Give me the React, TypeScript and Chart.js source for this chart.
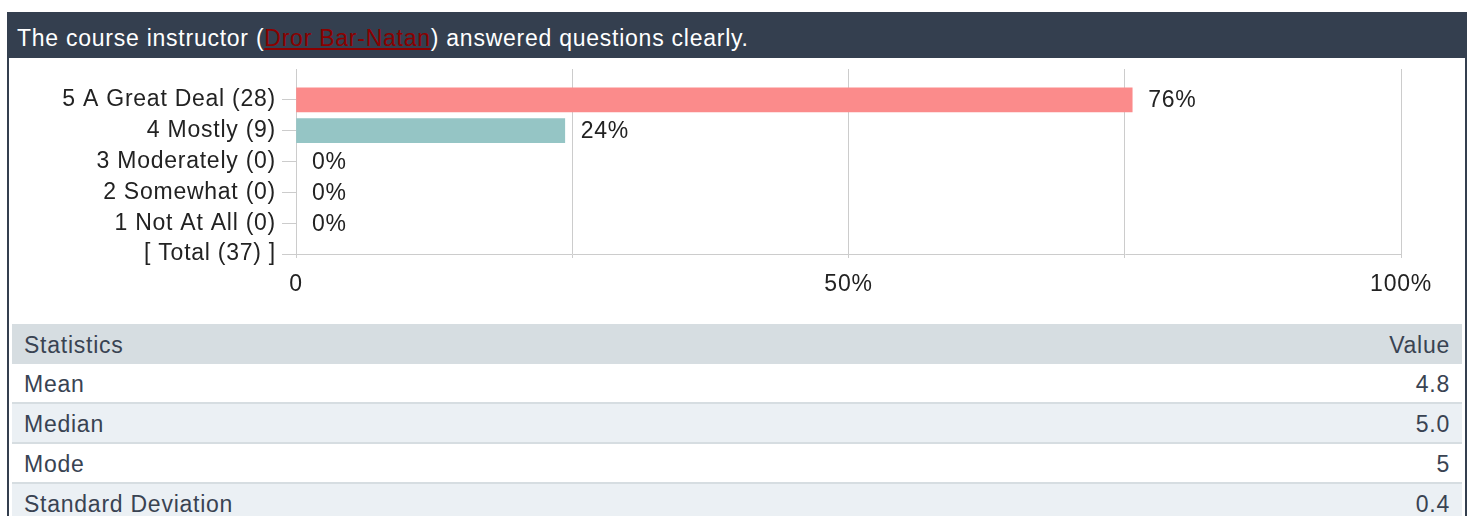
import React, { useEffect, useRef } from 'react';
import { Chart, registerables } from 'chart.js';

Chart.register(...registerables);

const categories = [
  '5 A Great Deal (28)',
  '4 Mostly (9)',
  '3 Moderately (0)',
  '2 Somewhat (0)',
  '1 Not At All (0)',
  '[ Total (37) ]',
];
const counts: (number | null)[] = [28, 9, 0, 0, 0, null];
const total = 37;
const percentLabels = ['76%', '24%', '0%', '0%', '0%', ''];
const barColors = ['#fb8b8b', '#95c5c5', '#cccccc', '#cccccc', '#cccccc', '#cccccc'];
const xTickValues = [0, 25, 50, 75, 100];
const xTickLabels: Record<number, string> = { 0: '0', 50: '50%', 100: '100%' };
const statNames = ['Mean', 'Median', 'Mode', 'Standard Deviation'];
const statValues = ['4.8', '5.0', '5', '0.4'];

const FONT = '"Liberation Sans", Arial, sans-serif';
const FONT_SIZE = 23;
const SPACING = '0.75px';

const spacingPlugin = {
  id: 'spacing',
  beforeLayout(chart: any) {
    chart.ctx.letterSpacing = SPACING;
  },
  beforeDraw(chart: any) {
    chart.ctx.letterSpacing = SPACING;
  },
};

const valueLabels = {
  id: 'valueLabels',
  afterDatasetsDraw(chart: any) {
    const ctx = chart.ctx;
    const meta = chart.getDatasetMeta(0);
    const data = chart.data.datasets[0].data;
    ctx.save();
    ctx.letterSpacing = SPACING;
    ctx.font = `${FONT_SIZE}px ${FONT}`;
    ctx.fillStyle = '#222222';
    ctx.textAlign = 'left';
    ctx.textBaseline = 'middle';
    meta.data.forEach((el: any, i: number) => {
      const v = data[i];
      if (v === null || v === undefined) return;
      const label = percentLabels[i - 1];
      if (!label) return;
      ctx.fillText(label, el.x + 16, el.y + 1);
    });
    ctx.restore();
  },
};

function SurveyChart() {
  const ref = useRef<HTMLCanvasElement>(null);
  useEffect(() => {
    if (!ref.current) return;
    const percents = counts.map((c) => (c === null ? null : (c / total) * 100));
    const chart = new Chart(ref.current, {
      type: 'bar',
      data: {
        labels: ['', ...categories],
        datasets: [
          {
            data: [null, ...percents],
            backgroundColor: ['transparent', ...barColors],
            barThickness: 24,
          },
        ],
      },
      options: {
        indexAxis: 'y',
        animation: false,
        responsive: false,
        events: [],
        layout: { padding: { top: 11, right: 64, left: 0, bottom: 0 } },
        plugins: { legend: { display: false }, tooltip: { enabled: false } },
        scales: {
          x: {
            type: 'linear',
            min: 0,
            max: 100,
            afterBuildTicks: (scale: any) => {
              scale.ticks = xTickValues.map((v) => ({ value: v }));
            },
            ticks: {
              autoSkip: false,
              maxRotation: 0,
              padding: 13,
              color: '#222222',
              font: { family: FONT, size: FONT_SIZE },
              callback: (v: any) => xTickLabels[Number(v)] ?? '',
            },
            grid: { color: '#cccccc', tickLength: 4, tickColor: '#cccccc' },
            border: { color: '#cccccc' },
            afterFit: (scale: any) => {
              scale.height = 70;
              scale.paddingLeft = 0;
              scale.paddingRight = 0;
            },
          },
          y: {
            type: 'category',
            offset: false,
            ticks: {
              autoSkip: false,
              padding: 6,
              color: '#222222',
              font: { family: FONT, size: FONT_SIZE },
            },
            grid: {
              offset: false,
              drawOnChartArea: false,
              tickLength: 14,
              tickColor: (c: any) => (c.index === 0 ? 'rgba(0,0,0,0)' : '#cccccc'),
            },
            border: { color: '#cccccc' },
            afterFit: (scale: any) => {
              scale.width = 287;
              scale.paddingTop = 0;
              scale.paddingBottom = 0;
            },
          },
        },
      },
      plugins: [spacingPlugin, valueLabels],
    } as any);
    return () => chart.destroy();
  }, []);
  return <canvas ref={ref} width={1456} height={266} style={{ display: 'block' }} />;
}

export default function App() {
  const cell: React.CSSProperties = {
    padding: '2px 12px 0',
    height: 38,
    lineHeight: '36px',
    boxSizing: 'border-box',
  };
  return (
    <div
      style={{
        position: 'absolute',
        left: 7,
        top: 12,
        width: 1460,
        fontFamily: FONT,
        letterSpacing: SPACING,
      }}
    >
      <div
        style={{
          background: '#343f4f',
          color: '#ffffff',
          height: 46,
          boxSizing: 'border-box',
          paddingLeft: 10,
          paddingTop: 7,
          lineHeight: '38px',
          fontSize: FONT_SIZE,
          whiteSpace: 'nowrap',
        }}
      >
        The course instructor (
        <a href="#" style={{ color: '#8b0000', textDecoration: 'underline' }}>
          Dror Bar-Natan
        </a>
        ) answered questions clearly.
      </div>
      <div
        style={{
          borderLeft: '2px solid #343f4f',
          borderRight: '2px solid #343f4f',
          paddingBottom: 10,
        }}
      >
        <SurveyChart />
        <table
          style={{
            margin: '0 3px',
            width: 1450,
            borderCollapse: 'collapse',
            fontSize: FONT_SIZE,
            color: '#394352',
          }}
        >
          <thead>
            <tr style={{ background: '#d6dde1' }}>
              <td style={{ ...cell, height: 40, lineHeight: '38px', textAlign: 'left' }}>Statistics</td>
              <td style={{ ...cell, height: 40, lineHeight: '38px', textAlign: 'right' }}>Value</td>
            </tr>
          </thead>
          <tbody>
            {statNames.map((n, i) => (
              <tr
                key={n}
                style={{
                  background: i % 2 === 0 ? '#ffffff' : '#ebf0f4',
                  borderBottom: '2px solid #d6dde1',
                }}
              >
                <td style={{ ...cell, textAlign: 'left' }}>{n}</td>
                <td style={{ ...cell, textAlign: 'right' }}>{statValues[i]}</td>
              </tr>
            ))}
          </tbody>
        </table>
      </div>
    </div>
  );
}
